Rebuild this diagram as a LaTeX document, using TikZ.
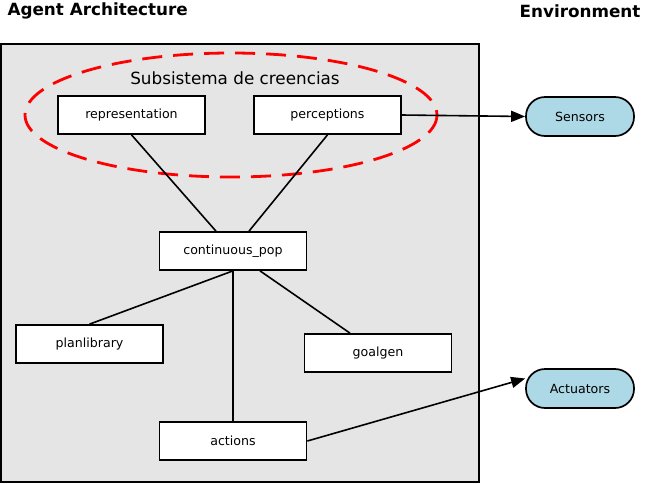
\documentclass[tikz,border=0pt]{standalone}
\usepackage{fontspec}
\setmainfont{DejaVu Sans}
\usepackage{tikz}
\usetikzlibrary{positioning, arrows.meta, shapes, calc}
\usepackage{xcolor}
\definecolor{agentgray}{RGB}{229, 229, 229}
\definecolor{envblue}{RGB}{173, 216, 230}

\begin{document}
\begin{tikzpicture}[x=1pt, y=-1pt,
    box/.style={rectangle, draw, line width=1.7pt, fill=white, minimum width=147pt, minimum height=38pt, inner sep=0pt, align=center, font=\fontsize{12.6}{15}\selectfont},
    env/.style={rectangle, draw, line width=1.7pt, fill=envblue, minimum width=108pt, minimum height=39pt, inner sep=0pt, rounded corners=19pt, font=\fontsize{12.6}{15}\selectfont},
    title/.style={font=\fontsize{16.8}{20}\selectfont\bfseries},
    link/.style={line width=1.6pt},
    flow/.style={line width=1.6pt, -{Triangle[length=14pt, width=11pt]}}
]
    \useasboundingbox (0,0) rectangle (645,483);

    \node[title, anchor=west] (agenttitle) at (4,11) {Agent Architecture};
    \node[title, anchor=east] (envtitle) at (644,11) {Environment};

    \draw[line width=1.8pt, fill=agentgray] (1,44) rectangle (479,482);

    % belief subsystem
    \draw[red, line width=2.8pt, dash pattern=on 20pt off 11pt] (231,115) ellipse [x radius=206, y radius=62];
    \node[font=\fontsize{16.8}{20}\selectfont] (beliefs) at (235,78) {Subsistema de creencias};

    \node[box] (rep) at (131.5,115) {representation};
    \node[box] (perc) at (327.5,115) {perceptions};
    \node[box] (cpop) at (233,251) {continuous\_pop};
    \node[box] (plan) at (89.5,344) {planlibrary};
    \node[box] (goal) at (378,353) {goalgen};
    \node[box] (act) at (233,441) {actions};

    \node[env] (sens) at (580,116.5) {Sensors};
    \node[env] (actu) at (580,388.5) {Actuators};

    \draw[link] (rep.south) -- ([xshift=-17pt]cpop.north);
    \draw[link] (perc.south) -- ([xshift=16pt]cpop.north);
    \draw[link] (cpop.south) -- (plan.north);
    \draw[link] ([xshift=27pt]cpop.south) -- ([xshift=-28pt]goal.north);
    \draw[link] (cpop.south) -- (act.north);

    \draw[flow] (perc.east) -- (sens.west);
    \draw[flow] (act.east) -- ([yshift=10pt]actu.west);
\end{tikzpicture}
\end{document}
